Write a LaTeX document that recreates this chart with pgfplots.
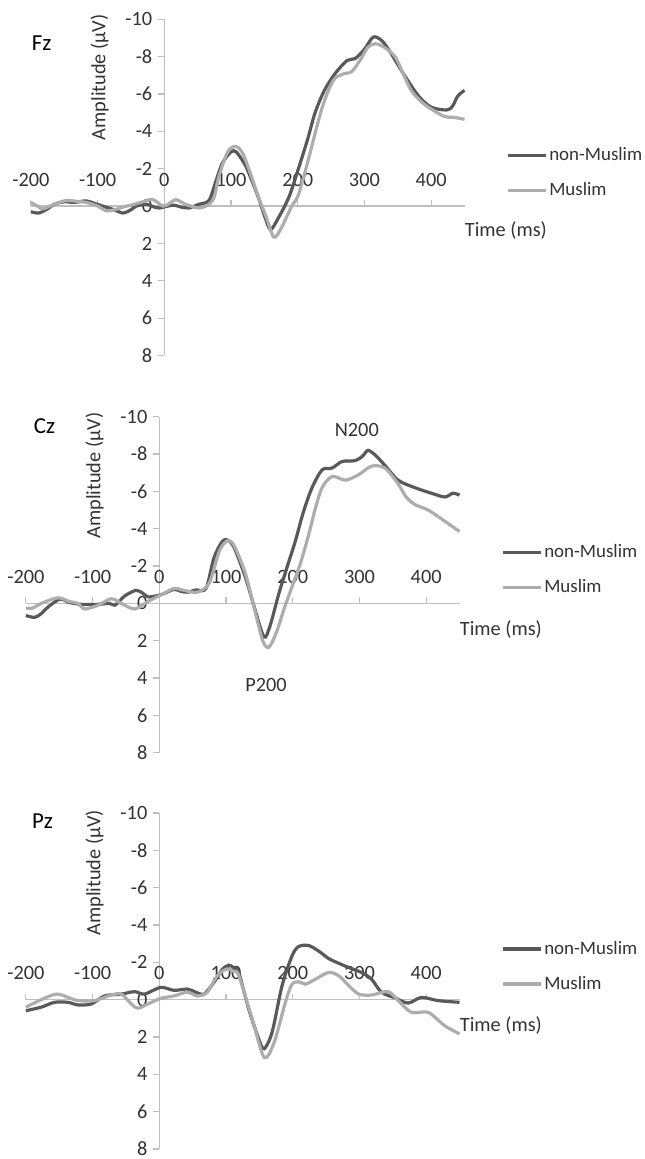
\documentclass[border=0pt]{standalone}
\usepackage{pgfplots}
\pgfplotsset{compat=1.18}
\usepackage{fontspec}
\setmainfont{Carlito}

\definecolor{nonmus}{HTML}{595959}
\definecolor{mus}{HTML}{ADADAD}
\definecolor{axgray}{HTML}{BFBFBF}
\definecolor{txt}{HTML}{333333}

\pgfplotsset{
  erp/.style={
    x=0.335pt, y=9.375pt, y dir=reverse,
    xmin=-200, xmax=450, ymin=-10, ymax=8,
    axis lines=middle,
    hide obscured x ticks=false, hide obscured y ticks=false,
    axis line style={axgray, line width=0.75pt, -},
    xtick={-200,-100,...,400},
    ytick={-10,-8,...,8},
    minor tick num=0,
    major tick length=3pt,
    tick align=center,
    every tick/.style={axgray, line width=0.6pt},
    x tick style={yshift=1.5pt},
    y tick style={xshift=-1.5pt},
    /pgf/number format/assume math mode=true,
    tick label style={font=\fontsize{10.2}{12}\selectfont, text=txt},
    xticklabel style={anchor=base, yshift=11.5pt, inner sep=0pt},
    yticklabel style={anchor=east, xshift=-1pt},
    clip=false,
    anchor=origin,
    legend style={draw=none, fill=none, at={(axis cs:512,-1.78)}, anchor=west,
      font=\fontsize{9.5}{11}\selectfont, text=txt, inner sep=0pt, row sep=7.5pt,
      nodes={inner sep=1pt},
      /tikz/every even column/.append style={column sep=-1pt}},
    legend cell align=left,
    legend image code/.code={\draw[##1, line width=1.6pt] (0pt,0pt) -- (19pt,0pt);},
    every axis plot/.append style={line width=1.6pt, smooth, tension=0.5, no markers},
  }
}

\begin{document}
\begin{tikzpicture}
\tikzset{lab/.style={font=\fontsize{10.2}{12}\selectfont, text=txt}}

% Fz
\begin{axis}[erp, at={(82.5pt,476pt)}]
\addplot[nonmus] coordinates {
(-200,0.3) (-188,0.37) (-175,0.15) (-165,-0.1) (-150,-0.23) (-135,-0.2) (-117,-0.28)
(-105,-0.15) (-92,0.0) (-75,0.2) (-62,0.37) (-50,0.2) (-42,0.0) (-27,-0.1) (-15,0.05)
(-7,0.1) (5,0.0) (15,-0.05) (25,0.05) (37,0.1) (52,-0.1) (67,-0.3) (77,-1.3) (87,-2.3)
(100,-2.9) (108,-2.9) (122,-2.15) (132,-1.3) (142,-0.37) (150,0.5) (159,1.25) (170,0.7)
(187,-0.5) (201,-2.0) (215,-3.6) (226,-5.0) (240,-6.2) (256,-7.1) (274,-7.8) (286,-7.9)
(300,-8.4) (313,-9.05) (325,-8.9) (336,-8.4) (348,-7.7) (361,-6.95) (381,-5.9) (400,-5.3)
(423,-5.15) (432,-5.35) (440,-5.9) (450,-6.2)
};
\addlegendentry{non-Muslim}
\addplot[mus] coordinates {
(-200,-0.2) (-190,0.0) (-182,0.15) (-165,-0.1) (-147,-0.3) (-130,-0.25) (-117,-0.2)
(-100,0.0) (-87,0.25) (-75,0.2) (-62,0.05) (-45,-0.1) (-30,-0.25) (-17,-0.35) (-2,0.0)
(8,-0.15) (17,-0.35) (32,-0.1) (52,0.1) (67,-0.1) (75,-0.5) (82,-1.6) (95,-2.9) (107,-3.2)
(118,-2.8) (132,-1.45) (142,-0.4) (152,0.5) (164,1.65) (175,1.2) (191,0.0) (201,-0.6)
(216,-2.5) (226,-3.9) (236,-5.2) (246,-6.2) (256,-6.85) (270,-7.1) (281,-7.2) (295,-7.9)
(305,-8.5) (316,-8.7) (330,-8.5) (346,-8.0) (358,-7.1) (370,-6.2) (385,-5.6) (400,-5.2)
(420,-4.8) (435,-4.75) (450,-4.65)
};
\addlegendentry{Muslim}
\node[font=\fontsize{11.5}{13}\selectfont] at (axis cs:-184,-8.75) {Fz};
\node[lab, rotate=90] at (axis cs:-97,-6.9) {Amplitude (µV)};
\node[lab, anchor=west, inner sep=0pt] at (axis cs:450,1.33) {Time (ms)};
\end{axis}

% Cz
\begin{axis}[erp, at={(80pt,276.5pt)}]
\addplot[nonmus] coordinates {
(-200,0.65) (-187,0.75) (-177,0.55) (-167,0.2) (-149,-0.23) (-135,-0.05) (-117,0.05)
(-92,0.05) (-75,0.0) (-67,0.1) (-60,-0.1) (-52,-0.4) (-35,-0.7) (-25,-0.55) (-17,-0.35)
(-5,-0.4) (5,-0.5) (22,-0.75) (32,-0.65) (42,-0.6) (55,-0.72) (70,-0.8) (82,-2.45)
(94,-3.3) (102,-3.4) (112,-3.0) (129,-1.4) (144,0.4) (157,1.8) (166,1.2) (179,-0.5)
(192,-2.0) (204,-3.35) (216,-4.9) (229,-6.2) (244,-7.15) (259,-7.25) (274,-7.6) (294,-7.65)
(305,-7.9) (313,-8.2) (325,-7.9) (338,-7.4) (358,-6.6) (383,-6.2) (408,-5.9) (428,-5.7)
(440,-5.9) (450,-5.8)
};
\addlegendentry{non-Muslim}
\addplot[mus] coordinates {
(-200,0.25) (-190,0.25) (-177,0.0) (-152,-0.3) (-135,-0.1) (-122,0.0) (-112,0.3) (-92,0.1)
(-72,-0.25) (-57,0.0) (-37,0.3) (-17,-0.1) (5,-0.5) (22,-0.8) (37,-0.7) (57,-0.6) (75,-1.1)
(90,-2.8) (102,-3.35) (112,-3.1) (129,-1.6) (144,0.5) (155,2.0) (164,2.35) (175,1.6)
(187,0.3) (199,-0.9) (212,-2.2) (224,-3.7) (234,-5.1) (244,-6.2) (259,-6.8) (279,-6.6)
(299,-6.9) (318,-7.35) (338,-7.25) (358,-6.4) (370,-5.7) (383,-5.3) (403,-5.0) (428,-4.4)
(450,-3.85)
};
\addlegendentry{Muslim}
\node[font=\fontsize{11.5}{13}\selectfont] at (axis cs:-172,-9.5) {Cz};
\node[lab, rotate=90] at (axis cs:-97,-6.85) {Amplitude (µV)};
\node[lab, anchor=west, inner sep=0pt] at (axis cs:450,1.39) {Time (ms)};
\node[lab] at (axis cs:296,-9.3) {N200};
\node[lab] at (axis cs:160,4.37) {P200};
\end{axis}

% Pz
\begin{axis}[erp, at={(80pt,77.5pt)}]
\addplot[nonmus] coordinates {
(-200,0.59) (-177,0.4) (-157,0.14) (-137,0.14) (-122,0.28) (-102,0.23) (-82,-0.2)
(-57,-0.3) (-37,-0.43) (-22,-0.3) (2,-0.66) (22,-0.5) (42,-0.57) (55,-0.4) (67,-0.3)
(82,-0.93) (94,-1.6) (104,-1.85) (112,-1.7) (119,-1.46) (134,0.5) (149,2.1) (157,2.63)
(169,1.75) (184,-0.75) (199,-2.35) (209,-2.85) (224,-2.9) (239,-2.6) (254,-2.2) (269,-1.95)
(284,-1.72) (303,-1.46) (318,-1.1) (333,-0.4) (353,-0.1) (373,0.18) (393,-0.12) (418,0.05)
(450,0.14)
};
\addlegendentry{non-Muslim}
\addplot[mus] coordinates {
(-200,0.4) (-177,0.0) (-154,-0.3) (-135,-0.1) (-122,0.05) (-97,0.05) (-72,-0.25) (-57,-0.3)
(-42,0.23) (-32,0.46) (-17,0.23) (2,-0.07) (22,-0.2) (42,-0.4) (57,-0.2) (72,-0.4)
(87,-1.3) (102,-1.65) (112,-1.5) (119,-1.3) (139,1.0) (157,3.08) (172,2.3) (189,0.14)
(199,-0.83) (210,-0.95) (219,-0.83) (234,-1.1) (254,-1.46) (269,-1.28) (284,-0.75)
(299,-0.3) (318,-0.25) (343,-0.43) (358,0.05) (378,0.68) (403,0.68) (428,1.4) (450,1.83)
};
\addlegendentry{Muslim}
\node[font=\fontsize{11.5}{13}\selectfont] at (axis cs:-175,-9.55) {Pz};
\node[lab, rotate=90] at (axis cs:-97,-6.8) {Amplitude (µV)};
\node[lab, anchor=west, inner sep=0pt] at (axis cs:450,1.39) {Time (ms)};
\end{axis}

\pgfresetboundingbox
\path[use as bounding box] (0pt,-2.5pt) rectangle (323.5pt,579.5pt);
\end{tikzpicture}
\end{document}
